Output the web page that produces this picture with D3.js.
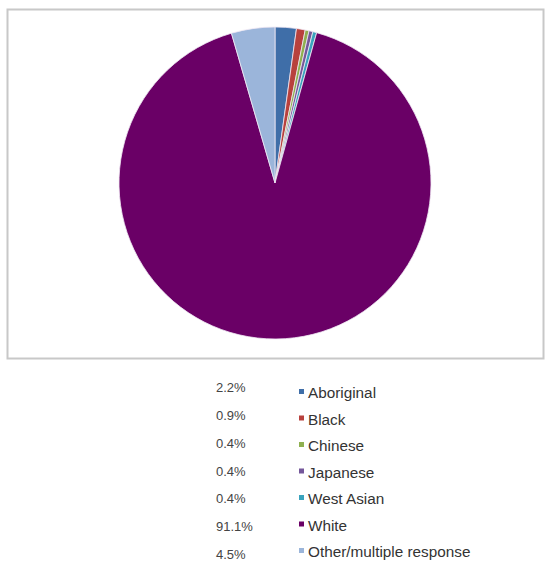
<!DOCTYPE html>
<html><head><meta charset="utf-8">
<script src="https://cdn.jsdelivr.net/npm/d3@7"></script>
<style>body{margin:0;background:#fff;font-family:"Liberation Sans",Arial,sans-serif;}</style>
</head><body>
<svg id="chart" width="548" height="577"></svg>
<script>
const categories = ["Aboriginal","Black","Chinese","Japanese","West Asian","White","Other/multiple response"];
const values = [2.2, 0.9, 0.4, 0.4, 0.4, 91.1, 4.5];
const percentLabels = ["2.2%","0.9%","0.4%","0.4%","0.4%","91.1%","4.5%"];
const colors = ["#3f6ea8","#b8413d","#8fb050","#74579a","#3aa3bd","#6a0066","#9bb5da"];

const svg = d3.select("#chart");
svg.append("rect").attr("x",7.5).attr("y",9.5).attr("width",536).attr("height",349)
  .attr("fill","#fff").attr("stroke","#c8c8c8").attr("stroke-width",2);

const cx = 275, cy = 183, r = 156;
const pie = d3.pie().sort(null).value(d=>d)(values);
const arc = d3.arc().innerRadius(0).outerRadius(r);
const g = svg.append("g").attr("transform",`translate(${cx},${cy})`);
g.selectAll("path").data(pie).join("path")
  .attr("d",arc).attr("fill",(d,i)=>colors[i])
  .attr("stroke","#f0e8f4").attr("stroke-width",0.8);

const pctY = d3.scalePoint().domain(d3.range(categories.length)).range([392,559]);
const labY = d3.scalePoint().domain(d3.range(categories.length)).range([398,557]);
const leg = svg.append("g");
leg.selectAll("text.pct").data(percentLabels).join("text").attr("class","pct")
  .attr("x",216).attr("y",(d,i)=>pctY(i)).attr("font-size",13).attr("fill","#444").text(d=>d);
leg.selectAll("rect").data(categories).join("rect")
  .attr("x",299).attr("y",(d,i)=>labY(i)-9).attr("width",5).attr("height",5)
  .attr("fill",(d,i)=>colors[i]);
leg.selectAll("text.lab").data(categories).join("text").attr("class","lab")
  .attr("x",308).attr("y",(d,i)=>labY(i)).attr("font-size",15.3).attr("fill","#333").text(d=>d);
</script>
</body></html>
